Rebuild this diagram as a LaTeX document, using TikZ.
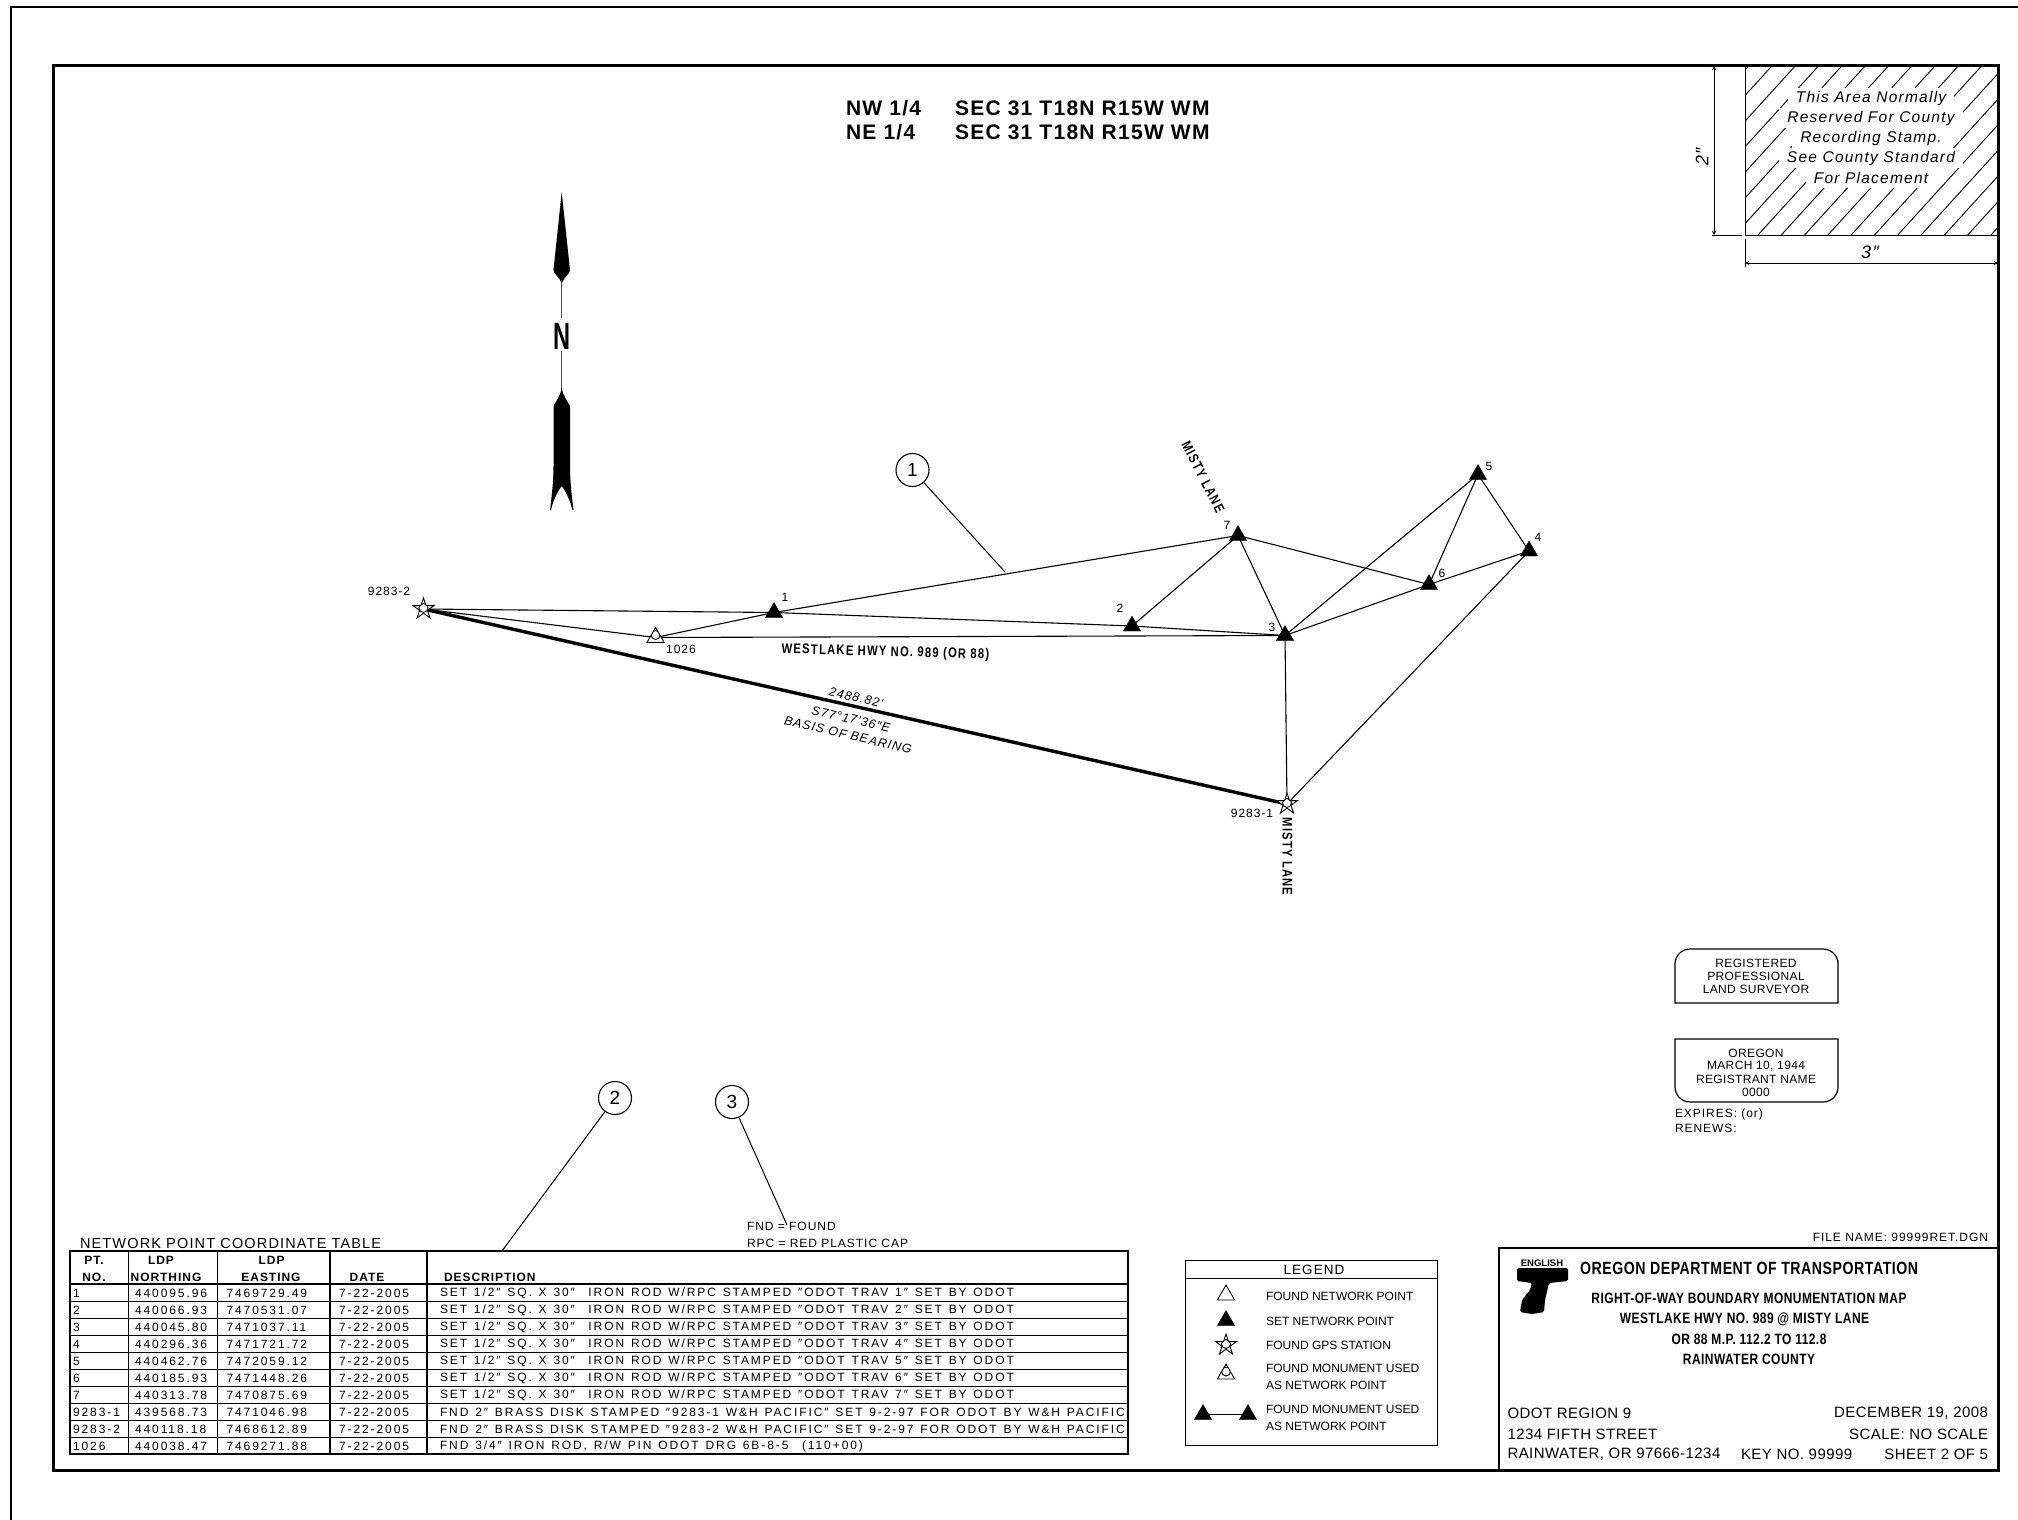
\documentclass[tikz,border=0pt]{standalone}
\usepackage{fontspec}
\setmainfont{Liberation Sans}
\newfontfamily\plainfont[LetterSpace=8]{Liberation Sans}
\newfontfamily\widefont[LetterSpace=16,WordSpace=1.29]{Liberation Sans}
\newfontfamily\tightfont[LetterSpace=3]{Liberation Sans}
\newfontfamily\headfont[LetterSpace=8]{Liberation Sans}
\newfontfamily\sheetfont[LetterSpace=6]{Liberation Sans}
\newfontfamily\condfont[FakeStretch=0.8,LetterSpace=3]{Liberation Sans}
\newfontfamily\roadfont[FakeStretch=0.8,LetterSpace=9]{Liberation Sans}
\newfontfamily\narrowfont[FakeStretch=0.62]{Liberation Sans}
\usetikzlibrary{shapes.geometric, positioning, backgrounds, arrows}

\newcommand{\txt}[1]{\fontsize{#1}{#1}\selectfont\plainfont}
\newcommand{\wid}[1]{\fontsize{#1}{#1}\selectfont\widefont}
\newcommand{\tig}[1]{\fontsize{#1}{#1}\selectfont\tightfont}
\newcommand{\cond}[1]{\fontsize{#1}{#1}\selectfont\condfont\bfseries}

\begin{document}
\begin{tikzpicture}[x=1pt, y=-1pt, >=stealth, line width=1.1pt,
    bare/.style={inner sep=0pt, outer sep=0pt},
    tab/.style={bare, font=\wid{12}, anchor=west},
    note/.style={bare, font=\txt{12}, anchor=west},
    leg/.style={bare, font=\fontsize{12}{12}\selectfont, anchor=west},
    tabhead/.style={bare, font=\fontsize{12}{12}\selectfont\headfont\bfseries},
    lab/.style={bare, font=\txt{12}},
    seal/.style={bare, font=\tig{12}},
    block/.style={bare, font=\tig{15}, anchor=west},
    sheethead/.style={bare, font=\fontsize{21}{21}\selectfont\sheetfont\bfseries, anchor=west},
    road/.style={bare, font=\fontsize{14}{14}\selectfont\roadfont\bfseries},
    head/.style={bare, font=\cond{15}},
    brg/.style={bare, font=\fontsize{12.5}{12.5}\selectfont\plainfont\itshape, rotate=-13},
    setpt/.style={regular polygon, regular polygon sides=3, fill=black, draw=black,
      line width=.3pt, minimum size=20pt, inner sep=0pt, outer sep=0pt},
    foundpt/.style={regular polygon, regular polygon sides=3, draw=black, fill=white,
      line width=.9pt, minimum size=20pt, inner sep=0pt, outer sep=0pt},
    monpt/.style={foundpt, path picture={\draw[line width=.9pt]
      (path picture bounding box.center) circle (4.5pt);}},
    gpspt/.style={star, star points=5, star point ratio=2.618, draw=black, fill=white,
      line width=.9pt, minimum size=22pt, inner sep=0pt, outer sep=0pt,
      path picture={\draw[line width=.9pt]
      (path picture bounding box.center) circle (4.5pt);}},
    leader/.style={circle, draw, minimum size=33pt, inner sep=0pt, font=\fontsize{19}{19}\selectfont},
    net/.style={line width=1.1pt}]

  \useasboundingbox (0,0) rectangle (2018,1520);

  % sheet edge and frame
  \draw[line width=1.2pt] (2018,7) -- (11,7) -- (11,1520);
  \draw[line width=3pt] (53,66) rectangle (1998,1470);

  % north arrow
  \fill (561.7,192) -- (570,270) .. controls (570,274) and (564,277) .. (562.5,282)
    -- (561,282) .. controls (559.5,277) and (553.5,274) .. (553.5,270) -- cycle;
  \draw[gray!60!black, line width=1.3pt] (561.7,280) -- (561.7,318);
  \node[bare, font=\fontsize{38}{38}\selectfont\narrowfont\bfseries] (north) at (561.7,336) {N};
  \draw[gray!60!black, line width=1.3pt] (north.south) ++(0,2) -- (561.7,392);
  \fill (561.7,388) .. controls (563,396) and (568,402) .. (570,406) -- (570,466)
    .. controls (570,482) and (572,498) .. (573.5,510) -- (572.5,510)
    .. controls (570,500) and (565,490) .. (561.7,486)
    .. controls (558.5,490) and (553,500) .. (551,510) -- (550,510)
    .. controls (551.5,498) and (553.5,482) .. (553.5,466) -- (553.5,406)
    .. controls (555.5,402) and (560.5,396) .. (561.7,388) -- cycle;

  % sheet heading
  \node[sheethead] (sec1a) at (846,108) {NW 1/4};
  \node[sheethead] (sec1b) at (955,108) {SEC 31 T18N R15W WM};
  \node[sheethead] (sec2a) at (846,132) {NE 1/4};
  \node[sheethead] (sec2b) at (955,132) {SEC 31 T18N R15W WM};

  % stamp area
  \begin{scope}
    \clip (1745,66) rectangle (1998,235);
    \foreach \hx in {0,1,...,20}
      \draw[line width=.9pt] (1745-220+\hx*23.3,235) -- ++(230,-253);
  \end{scope}
  \draw[line width=1pt] (1745,66) -- (1745,235) -- (1998,235);
  \foreach \stampy/\stamptxt in {98/This Area Normally, 118/Reserved For County,
      138/Recording Stamp., 158/See County Standard, 178/For Placement}
    \node[fill=white, inner xsep=8pt, inner ysep=0pt, minimum height=20pt,
      font=\fontsize{15.5}{20}\selectfont\plainfont\itshape] at (1871,\stampy) {\stamptxt};
  \coordinate (dimtop) at (1714,66);
  \coordinate (dimbot) at (1714,235);
  \coordinate (dimleft) at (1745,263);
  \coordinate (dimright) at (1998,263);
  \draw[<->, line width=.9pt] (dimtop) -- (dimbot);
  \draw[<->, line width=.9pt] (dimleft) -- (dimright);
  \draw[line width=.9pt] (1712,235) -- (1742,235);
  \draw[line width=.9pt] (1745,239) -- (1745,267);
  \node[bare, font=\fontsize{18}{18}\selectfont\plainfont\itshape, rotate=90] (dimtwo) at (1702,157) {2″};
  \node[bare, font=\fontsize{18}{18}\selectfont\plainfont\itshape] (dimthree) at (1870,252) {3″};

  % network points
  \node[setpt] (p1) at (774,612.5) {};
  \node[setpt] (p2) at (1132,626) {};
  \node[setpt] (p3) at (1285,635.5) {};
  \node[setpt] (p4) at (1529,551) {};
  \node[setpt] (p5) at (1478,474.5) {};
  \node[setpt] (p6) at (1429,584.5) {};
  \node[setpt] (p7) at (1238,535.5) {};
  \node[gpspt] (gps1) at (1287,804) {};
  \node[gpspt] (gps2) at (423.5,609) {};
  \node[monpt] (mon) at (655.6,637.5) {};

  \begin{scope}[on background layer]
    \foreach \from/\to in {gps2/p1, gps2/mon, mon/p1, p1/p7, p1/p2, p2/p3, mon/p3,
        p2/p7, p7/p3, p7/p6, p3/p6, p6/p4, p4/p5, p5/p6, p5/p3, p3/gps1, p4/gps1}
      \draw[net] (\from.center) -- (\to.center);
    \draw[line width=3.4pt] (gps2.center) -- (gps1.center);
  \end{scope}

  % point labels
  \node[lab] (lab1) at (785,597) {1};
  \node[lab] (lab2) at (1120,608) {2};
  \node[lab] (lab3) at (1272,627) {3};
  \node[lab] (lab4) at (1538,537) {4};
  \node[lab] (lab5) at (1489,466) {5};
  \node[lab] (lab6) at (1442,573) {6};
  \node[lab] (lab7) at (1227,525) {7};
  \node[lab] (labg1) at (1252,813) {9283-1};
  \node[lab] (labg2) at (389,591) {9283-2};
  \node[lab] (labm) at (681,649) {1026};

  \node[road, rotate=-1.5] (hwy) at (885.5,652.5) {WESTLAKE HWY NO. 989 (OR 88)};
  \node[road, rotate=-63] (misty1) at (1203,477) {MISTY LANE};
  \node[road, rotate=-90] (misty2) at (1287.5,856.5) {MISTY LANE};

  \node[brg] (brgdist) at (856,697.5) {2488.82'};
  \node[brg] (brgval) at (851,719) {S77°17'36″E};
  \node[brg] (brgname) at (848,735) {BASIS OF BEARING};

  % callouts
  \node[leader] (call1) at (912.5,470) {1};
  \node[leader] (call2) at (615,1098) {2};
  \node[leader] (call3) at (732,1102) {3};
  \coordinate (end1) at (1005,572);
  \coordinate (end2) at (502,1251);
  \coordinate (end3) at (787,1225);
  \draw[line width=1pt] (call1) -- (end1);
  \draw[line width=1pt] (call2) -- (end2);
  \draw[line width=1pt] (call3) -- (end3);

  \node[note] (fnd) at (747,1226) {FND = FOUND};
  \node[note] (rpc) at (747,1243) {RPC = RED PLASTIC CAP};

  % coordinate table
  \node[bare, font=\fontsize{14.5}{14.5}\selectfont\plainfont, anchor=west] (tabtitle) at (80,1243) {NETWORK POINT COORDINATE TABLE};
  \draw[line width=2pt] (70,1251) rectangle (1128,1454);
  \draw[line width=2pt] (70,1284) -- (1128,1284);
  \foreach \colx in {128.5,217.6,330,427}
    \draw[line width=1.2pt] (\colx,1251) -- (\colx,1454);
  \node[tabhead] (hpt1) at (94,1260) {PT.};
  \node[tabhead] (hpt2) at (94,1277) {NO.};
  \node[tabhead] (hn1) at (161,1260) {LDP};
  \node[tabhead] (hn2) at (166,1277) {NORTHING};
  \node[tabhead] (he1) at (271.6,1260) {LDP};
  \node[tabhead] (he2) at (271,1277) {EASTING};
  \node[tabhead] (hd) at (367,1277) {DATE};
  \node[tabhead, anchor=west] (hdesc) at (444,1277) {DESCRIPTION};
  \foreach \rowi/\ptno/\nrth/\eastg/\desc in {
      1/1/440095.96/7469729.49/{SET 1/2″ SQ. X 30″~~IRON ROD W/RPC STAMPED ″ODOT TRAV 1″ SET BY ODOT},
      2/2/440066.93/7470531.07/{SET 1/2″ SQ. X 30″~~IRON ROD W/RPC STAMPED ″ODOT TRAV 2″ SET BY ODOT},
      3/3/440045.80/7471037.11/{SET 1/2″ SQ. X 30″~~IRON ROD W/RPC STAMPED ″ODOT TRAV 3″ SET BY ODOT},
      4/4/440296.36/7471721.72/{SET 1/2″ SQ. X 30″~~IRON ROD W/RPC STAMPED ″ODOT TRAV 4″ SET BY ODOT},
      5/5/440462.76/7472059.12/{SET 1/2″ SQ. X 30″~~IRON ROD W/RPC STAMPED ″ODOT TRAV 5″ SET BY ODOT},
      6/6/440185.93/7471448.26/{SET 1/2″ SQ. X 30″~~IRON ROD W/RPC STAMPED ″ODOT TRAV 6″ SET BY ODOT},
      7/7/440313.78/7470875.69/{SET 1/2″ SQ. X 30″~~IRON ROD W/RPC STAMPED ″ODOT TRAV 7″ SET BY ODOT},
      8/9283-1/439568.73/7471046.98/{FND 2″ BRASS DISK STAMPED ″9283-1 W\&H PACIFIC″ SET 9-2-97 FOR ODOT BY W\&H PACIFIC},
      9/9283-2/440118.18/7468612.89/{FND 2″ BRASS DISK STAMPED ″9283-2 W\&H PACIFIC″ SET 9-2-97 FOR ODOT BY W\&H PACIFIC},
      10/1026/440038.47/7469271.88/{FND 3/4″ IRON ROD, R/W PIN ODOT DRG 6B-8-5~~(110+00)}} {
    \node[tab] at (73,1276.5+17*\rowi) {\ptno};
    \node[tab] at (135,1276.5+17*\rowi) {\nrth};
    \node[tab] at (226.5,1276.5+17*\rowi) {\eastg};
    \node[tab] at (339,1276.5+17*\rowi) {7-22-2005};
    \node[tab] at (440,1276.5+17*\rowi) {\desc};
    \ifnum\rowi<10 \draw[line width=1pt] (70,1284+17*\rowi) -- (1128,1284+17*\rowi); \fi
  }

  % legend
  \draw[line width=1pt] (1185,1260) rectangle (1437,1445);
  \draw[line width=1pt] (1185,1278) -- (1437,1278);
  \node[bare, font=\txt{13.5}] (legtitle) at (1314,1270) {LEGEND};
  \node[foundpt] (leg1) at (1226,1295) {};
  \node[setpt] (leg2) at (1226,1320.5) {};
  \node[gpspt] (leg3) at (1226,1345) {};
  \node[monpt] (leg4) at (1226,1374) {};
  \node[setpt] (leg5a) at (1203,1414.5) {};
  \node[setpt] (leg5b) at (1248,1414.5) {};
  \draw[line width=1pt] (leg5a.center) -- (leg5b.center);
  \node[leg] at (1266,1296) {FOUND NETWORK POINT};
  \node[leg] at (1266,1321) {SET NETWORK POINT};
  \node[leg] at (1266,1345) {FOUND GPS STATION};
  \node[leg] at (1266,1368) {FOUND MONUMENT USED};
  \node[leg] at (1266,1385) {AS NETWORK POINT};
  \node[leg] at (1266,1409) {FOUND MONUMENT USED};
  \node[leg] at (1266,1426) {AS NETWORK POINT};

  % registration seal
  \draw[line width=1.2pt] (1675,1003) -- (1675,975)
    [rounded corners=15pt] -- (1675,949) -- (1838,949) -- (1838,975) [sharp corners] -- (1838,1003) -- cycle;
  \draw[line width=1.2pt] (1675,1039) -- (1838,1039) -- (1838,1070)
    [rounded corners=15pt] -- (1838,1102) -- (1675,1102) -- (1675,1070) [sharp corners] -- cycle;
  \foreach \sealy/\sealtxt in {963/REGISTERED, 976/PROFESSIONAL, 989/LAND SURVEYOR,
      1053/OREGON, 1066/{MARCH 10, 1944}, 1079/REGISTRANT NAME, 1092/0000}
    \node[seal] at (1756,\sealy) {\sealtxt};
  \node[note] (expires) at (1675,1114) {EXPIRES: (or)};
  \node[note] (renews) at (1675,1128) {RENEWS:};

  % title block
  \draw[line width=1.6pt] (1499,1470) -- (1499,1248) -- (1998,1248);
  \node[note, anchor=east] (fname) at (1988,1237) {FILE NAME: 99999RET.DGN};
  \fill[rounded corners=1.5pt] (1517,1268) -- (1568,1268) -- (1568,1281) -- (1549,1283)
    -- (1545,1300) -- (1544,1312) -- (1532,1314) -- (1520,1312) -- (1522,1300)
    -- (1530,1290) -- (1532,1283) -- (1517,1281) -- cycle;
  \node[bare, font=\fontsize{9.5}{9.5}\selectfont\bfseries] (english) at (1542,1263) {ENGLISH};
  \node[bare, font=\cond{17.7}, anchor=west] (odot) at (1580,1268) {OREGON DEPARTMENT OF TRANSPORTATION};
  \node[head] (title1) at (1749,1298) {RIGHT-OF-WAY BOUNDARY MONUMENTATION MAP};
  \node[head] (title2) at (1744.5,1319) {WESTLAKE HWY NO. 989 @ MISTY LANE};
  \node[head] (title3) at (1749,1339.5) {OR 88 M.P. 112.2 TO 112.8};
  \node[head] (title4) at (1749,1359) {RAINWATER COUNTY};
  \node[block] (addr1) at (1507.5,1413.5) {ODOT REGION 9};
  \node[block] (addr2) at (1507.5,1434) {1234 FIFTH STREET};
  \node[block] (addr3) at (1507.5,1454.5) {RAINWATER, OR 97666-1234};
  \node[block] (keyno) at (1741,1454.5) {KEY NO. 99999};
  \node[block, anchor=east] (sdate) at (1988,1413.5) {DECEMBER 19, 2008};
  \node[block, anchor=east] (sscale) at (1988,1434) {SCALE: NO SCALE};
  \node[block, anchor=east] (ssheet) at (1988,1454.5) {SHEET 2 OF 5};
\end{tikzpicture}
\end{document}
